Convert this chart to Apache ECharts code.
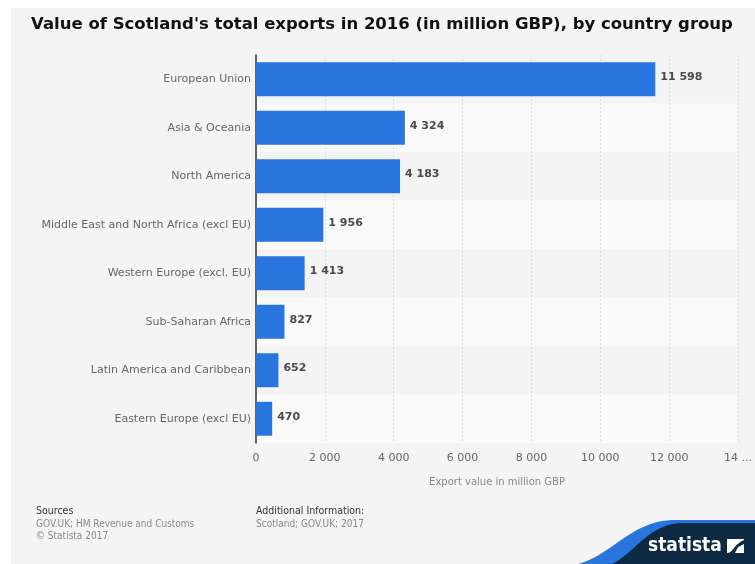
<!DOCTYPE html>
<html>
<head>
<meta charset="utf-8">
<script src="https://cdn.jsdelivr.net/npm/echarts@6/dist/echarts.min.js"></script>
<style>
  html, body { margin: 0; padding: 0; background: #fff; }
  #box { width: 755px; height: 564px; }
</style>
</head>
<body>
<div id="box"></div>
<script>
// country groups, top to bottom
const groups = [
  'European Union',
  'Asia & Oceania',
  'North America',
  'Middle East and North Africa (excl EU)',
  'Western Europe (excl. EU)',
  'Sub-Saharan Africa',
  'Latin America and Caribbean',
  'Eastern Europe (excl EU)'
]
// export value in million GBP
const exportValues = [11598, 4324, 4183, 1956, 1413, 827, 652, 470]
const xTicks = [0, 2000, 4000, 6000, 8000, 10000, 12000, 14000]

function fmt(v) {
  return String(v).replace(/\B(?=(\d{3})+(?!\d))/g, ' ')
}

// logo wave outline: sample a cubic curve into polygon points
function wave(p0, p1, p2, p3, tail) {
  const pts = []
  for (let i = 0; i <= 24; i++) {
    const t = i / 24, u = 1 - t
    pts.push([
      u * u * u * p0[0] + 3 * u * u * t * p1[0] + 3 * u * t * t * p2[0] + t * t * t * p3[0],
      u * u * u * p0[1] + 3 * u * u * t * p1[1] + 3 * u * t * t * p2[1] + t * t * t * p3[1]
    ])
  }
  return pts.concat(tail)
}

const myChart = echarts.init(document.getElementById('box'))
const option = {
  backgroundColor: '#ffffff',
  animation: false,
  textStyle: { fontFamily: 'DejaVu Sans' },
  title: {
    text: "Value of Scotland's total exports in 2016 (in million GBP), by country group",
    left: 377,
    textAlign: 'center',
    top: 11,
    textStyle: { fontSize: 16.5, fontWeight: 'bold', color: '#111', fontFamily: 'DejaVu Sans' }
  },
  grid: { left: 256, right: 17, top: 55, bottom: 121 },
  xAxis: {
    type: 'value',
    min: xTicks[0],
    max: xTicks[xTicks.length - 1],
    interval: 2000,
    name: 'Export value in million GBP',
    nameLocation: 'middle',
    nameGap: 34,
    nameTextStyle: { fontSize: 10, color: '#888' },
    axisLine: { show: false },
    axisTick: { show: false },
    axisLabel: {
      fontSize: 11,
      color: '#666',
      margin: 10,
      formatter: function (v) { return v === 14000 ? '14 ...' : fmt(v) }
    },
    splitLine: { show: true, lineStyle: { color: '#dcdcdc', type: [2, 2], width: 1 } }
  },
  yAxis: {
    type: 'category',
    data: groups,
    inverse: true,
    axisLine: { show: true, lineStyle: { color: '#333', width: 1.5 } },
    axisTick: { show: false },
    axisLabel: { fontSize: 11, color: '#666', margin: 5, padding: [0, 0, 4, 0] },
    splitArea: { show: true, areaStyle: { color: ['#f4f4f4', '#fafafa'] } }
  },
  series: [
    {
      type: 'bar',
      data: exportValues,
      barCategoryGap: '30%',
      itemStyle: { color: '#2876dd' },
      label: {
        show: true,
        position: 'right',
        distance: 5,
        offset: [0, -2],
        fontSize: 11,
        fontWeight: 'bold',
        color: '#4a4a4a',
        formatter: function (p) { return fmt(p.value) }
      }
    }
  ],
  graphic: [
    // panel background
    { type: 'rect', z: -10, shape: { x: 11, y: 8, width: 744, height: 556 }, style: { fill: '#f4f4f4' } },
    // footer
    { type: 'text', x: 36, y: 506, style: { text: 'Sources', fontSize: 10.5, fill: '#333', fontFamily: 'DejaVu Sans Condensed' } },
    { type: 'text', x: 36, y: 519, style: { text: 'GOV.UK; HM Revenue and Customs', fontSize: 10, fill: '#888', fontFamily: 'DejaVu Sans Condensed' } },
    { type: 'text', x: 36, y: 531, style: { text: '© Statista 2017', fontSize: 10, fill: '#888', fontFamily: 'DejaVu Sans Condensed' } },
    { type: 'text', x: 256, y: 506, style: { text: 'Additional Information:', fontSize: 10.5, fill: '#333', fontFamily: 'DejaVu Sans Condensed' } },
    { type: 'text', x: 256, y: 519, style: { text: 'Scotland; GOV.UK; 2017', fontSize: 10, fill: '#888', fontFamily: 'DejaVu Sans Condensed' } },
    // statista logo
    { type: 'polygon', shape: { points: wave([578, 564], [612, 555], [630, 522], [672, 520], [[755, 520], [755, 564]]) }, style: { fill: '#2876dd' } },
    { type: 'polygon', shape: { points: wave([612, 564], [636, 552], [648, 524], [682, 523], [[755, 523], [755, 564]]) }, style: { fill: '#0d2a43' } },
    { type: 'text', x: 648, y: 537, style: { text: 'statista', fontSize: 19, fontWeight: 'bold', fill: '#fff', fontFamily: 'DejaVu Sans Condensed' } },
    { type: 'rect', shape: { x: 727, y: 539, width: 17, height: 14 }, style: { fill: '#fff' } },
    { type: 'polygon', shape: { points: wave([727, 553], [733, 553], [733, 545], [744, 540], [[744, 544], [738, 547], [735, 553]]) }, style: { fill: '#0d2a43' } }
  ]
}
myChart.setOption(option)
</script>
</body>
</html>
